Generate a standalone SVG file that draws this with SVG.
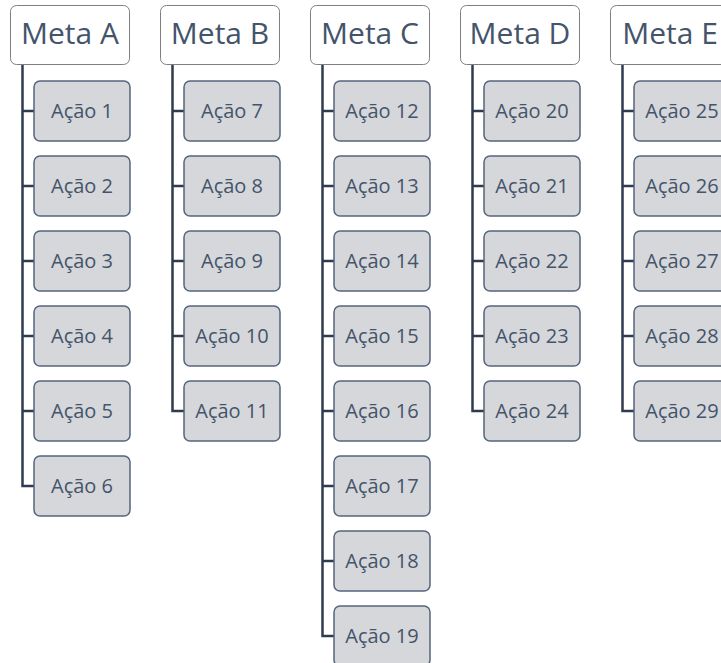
<svg xmlns="http://www.w3.org/2000/svg" width="721" height="663" viewBox="0 0 721 663">
<style>
.meta rect{fill:#ffffff;stroke:#7f7f7f;stroke-width:1}
.meta text{font-family:"Open Sans","Liberation Sans",sans-serif;font-size:30px;fill:#44546a;text-anchor:middle}
.act rect{fill:#d5d7db;stroke:#56667c;stroke-width:1.5}
.act text{font-family:"Open Sans","Liberation Sans",sans-serif;font-size:20px;fill:#44546a;text-anchor:middle}
.conn path{fill:none;stroke:#2f3b4e;stroke-width:2.5}
</style>
<rect width="721" height="663" fill="#ffffff"/>
<g id="connectors" class="conn">
<path d="M22.5,65 V486 H34 M22.5,111 H34 M22.5,186 H34 M22.5,261 H34 M22.5,336 H34 M22.5,411 H34"/>
<path d="M172.5,65 V411 H184 M172.5,111 H184 M172.5,186 H184 M172.5,261 H184 M172.5,336 H184"/>
<path d="M322.5,65 V636 H334 M322.5,111 H334 M322.5,186 H334 M322.5,261 H334 M322.5,336 H334 M322.5,411 H334 M322.5,486 H334 M322.5,561 H334"/>
<path d="M472.5,65 V411 H484 M472.5,111 H484 M472.5,186 H484 M472.5,261 H484 M472.5,336 H484"/>
<path d="M622.5,65 V411 H634 M622.5,111 H634 M622.5,186 H634 M622.5,261 H634 M622.5,336 H634"/>
</g>
<g id="metaA" class="meta"><rect x="10.5" y="5.5" width="119" height="59" rx="6"/><text x="70" y="44">Meta A</text></g>
<g id="metaB" class="meta"><rect x="160.5" y="5.5" width="119" height="59" rx="6"/><text x="220" y="44">Meta B</text></g>
<g id="metaC" class="meta"><rect x="310.5" y="5.5" width="119" height="59" rx="6"/><text x="370" y="44">Meta C</text></g>
<g id="metaD" class="meta"><rect x="460.5" y="5.5" width="119" height="59" rx="6"/><text x="520" y="44">Meta D</text></g>
<g id="metaE" class="meta"><rect x="610.5" y="5.5" width="119" height="59" rx="6"/><text x="670" y="44">Meta E</text></g>

<g id="a1" class="act"><rect x="34" y="81" width="96" height="60" rx="6"/><text x="82" y="117.5">Ação 1</text></g>
<g id="a2" class="act"><rect x="34" y="156" width="96" height="60" rx="6"/><text x="82" y="192.5">Ação 2</text></g>
<g id="a3" class="act"><rect x="34" y="231" width="96" height="60" rx="6"/><text x="82" y="267.5">Ação 3</text></g>
<g id="a4" class="act"><rect x="34" y="306" width="96" height="60" rx="6"/><text x="82" y="342.5">Ação 4</text></g>
<g id="a5" class="act"><rect x="34" y="381" width="96" height="60" rx="6"/><text x="82" y="417.5">Ação 5</text></g>
<g id="a6" class="act"><rect x="34" y="456" width="96" height="60" rx="6"/><text x="82" y="492.5">Ação 6</text></g>

<g id="a7" class="act"><rect x="184" y="81" width="96" height="60" rx="6"/><text x="232" y="117.5">Ação 7</text></g>
<g id="a8" class="act"><rect x="184" y="156" width="96" height="60" rx="6"/><text x="232" y="192.5">Ação 8</text></g>
<g id="a9" class="act"><rect x="184" y="231" width="96" height="60" rx="6"/><text x="232" y="267.5">Ação 9</text></g>
<g id="a10" class="act"><rect x="184" y="306" width="96" height="60" rx="6"/><text x="232" y="342.5">Ação 10</text></g>
<g id="a11" class="act"><rect x="184" y="381" width="96" height="60" rx="6"/><text x="232" y="417.5">Ação 11</text></g>

<g id="a12" class="act"><rect x="334" y="81" width="96" height="60" rx="6"/><text x="382" y="117.5">Ação 12</text></g>
<g id="a13" class="act"><rect x="334" y="156" width="96" height="60" rx="6"/><text x="382" y="192.5">Ação 13</text></g>
<g id="a14" class="act"><rect x="334" y="231" width="96" height="60" rx="6"/><text x="382" y="267.5">Ação 14</text></g>
<g id="a15" class="act"><rect x="334" y="306" width="96" height="60" rx="6"/><text x="382" y="342.5">Ação 15</text></g>
<g id="a16" class="act"><rect x="334" y="381" width="96" height="60" rx="6"/><text x="382" y="417.5">Ação 16</text></g>
<g id="a17" class="act"><rect x="334" y="456" width="96" height="60" rx="6"/><text x="382" y="492.5">Ação 17</text></g>
<g id="a18" class="act"><rect x="334" y="531" width="96" height="60" rx="6"/><text x="382" y="567.5">Ação 18</text></g>
<g id="a19" class="act"><rect x="334" y="606" width="96" height="60" rx="6"/><text x="382" y="642.5">Ação 19</text></g>

<g id="a20" class="act"><rect x="484" y="81" width="96" height="60" rx="6"/><text x="532" y="117.5">Ação 20</text></g>
<g id="a21" class="act"><rect x="484" y="156" width="96" height="60" rx="6"/><text x="532" y="192.5">Ação 21</text></g>
<g id="a22" class="act"><rect x="484" y="231" width="96" height="60" rx="6"/><text x="532" y="267.5">Ação 22</text></g>
<g id="a23" class="act"><rect x="484" y="306" width="96" height="60" rx="6"/><text x="532" y="342.5">Ação 23</text></g>
<g id="a24" class="act"><rect x="484" y="381" width="96" height="60" rx="6"/><text x="532" y="417.5">Ação 24</text></g>

<g id="a25" class="act"><rect x="634" y="81" width="96" height="60" rx="6"/><text x="682" y="117.5">Ação 25</text></g>
<g id="a26" class="act"><rect x="634" y="156" width="96" height="60" rx="6"/><text x="682" y="192.5">Ação 26</text></g>
<g id="a27" class="act"><rect x="634" y="231" width="96" height="60" rx="6"/><text x="682" y="267.5">Ação 27</text></g>
<g id="a28" class="act"><rect x="634" y="306" width="96" height="60" rx="6"/><text x="682" y="342.5">Ação 28</text></g>
<g id="a29" class="act"><rect x="634" y="381" width="96" height="60" rx="6"/><text x="682" y="417.5">Ação 29</text></g>
</svg>
